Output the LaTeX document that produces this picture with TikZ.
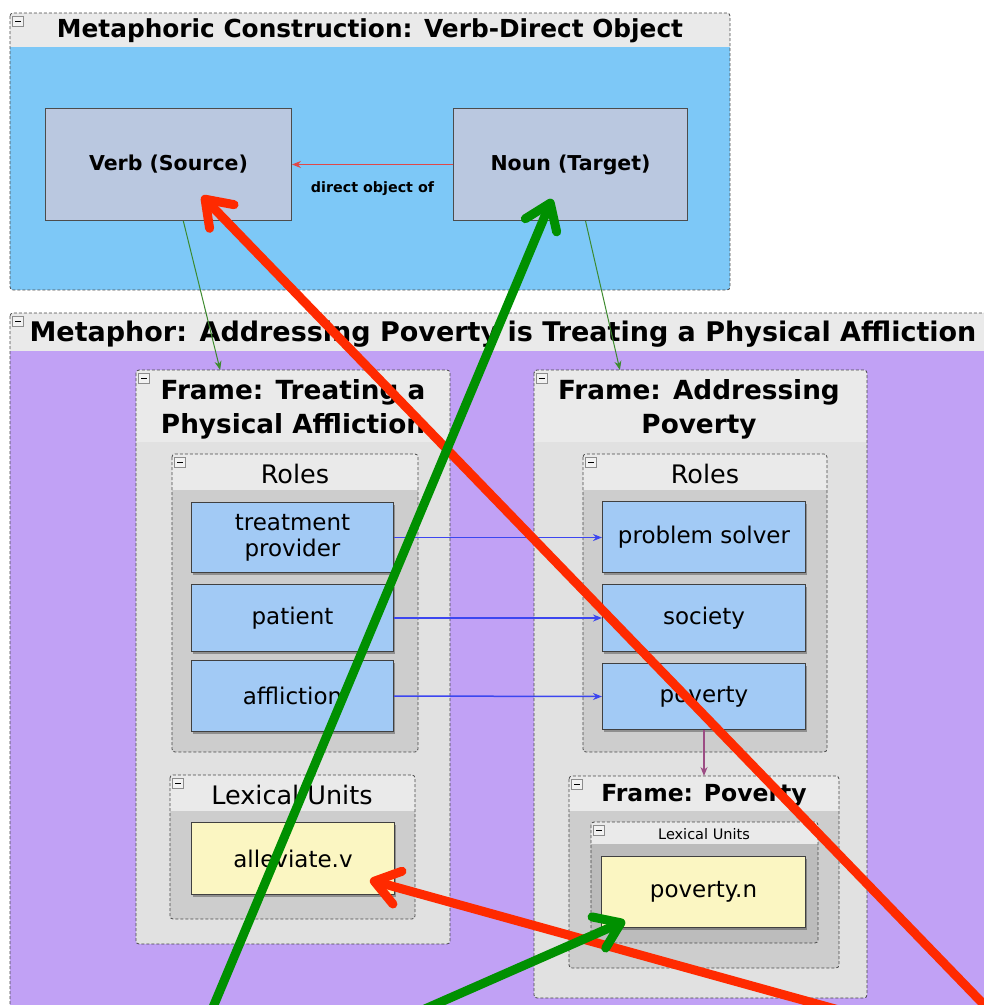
\documentclass[tikz,border=0pt]{standalone}
\usepackage{fontspec}
\setmainfont{DejaVu Sans}
\usetikzlibrary{arrows.meta,shadows,calc}

\definecolor{hdrgray}{HTML}{EAEAEA}
\definecolor{skyfill}{HTML}{7DC8F7}
\definecolor{lilac}{HTML}{C1A1F5}
\definecolor{framegray}{HTML}{E1E1E1}
\definecolor{rolesgray}{HTML}{CDCDCD}
\definecolor{lexdark}{HTML}{BCBCBC}
\definecolor{conceptfill}{HTML}{BAC8E0}
\definecolor{rolefill}{HTML}{A2CAF5}
\definecolor{lexfill}{HTML}{FBF6C2}
\definecolor{thinred}{HTML}{E04848}
\definecolor{thingreen}{HTML}{3C8A2E}
\definecolor{roleblue}{HTML}{3C46F0}
\definecolor{plum}{HTML}{9C4C84}
\definecolor{markred}{HTML}{FF2A00}
\definecolor{markgreen}{HTML}{009000}

\newcommand\fsz[2]{\fontsize{#1}{#2}\selectfont}

\tikzset{
  panelline/.style={draw=black!72, dash pattern=on 3pt off 2pt, line width=0.8pt, rounded corners=3pt},
  minusbox/.style={draw=black!45, fill=white!95!black, line width=0.5pt},
  title/.style={font=\fsz{22}{33}\bfseries, align=center, inner sep=0pt},
  heading/.style={font=\fsz{25.5}{30}, inner sep=0pt},
  concept/.style={draw=black!70, line width=1pt, fill=conceptfill, font=\fsz{20.5}{24}\bfseries,
    anchor=north west, inner sep=0pt},
  role/.style={draw=black!75, line width=1pt, fill=rolefill, font=\fsz{23}{26}, align=center,
    anchor=north west, inner sep=0pt,
    drop shadow={shadow xshift=1.5pt, shadow yshift=-2pt, opacity=0.3, fill=black}},
  lexunit/.style={role, fill=lexfill},
  relarrow/.style={line width=1.5pt, -{Stealth[length=9pt,width=7pt]}},
  marker/.style={line width=9pt, line cap=round, line join=round,
    -{Straight Barb[length=24pt,width=34pt,line cap=round,line join=round]}},
}

% A collapsible panel: grey header strip, coloured body, dashed outline and a minus box.
% #1 name, #2 x1, #3 y1, #4 x2, #5 y2, #6 y of header bottom, #7 body colour
\newcommand\panel[7]{%
  \begin{scope}
    \clip[rounded corners=3pt] (#2,#3) rectangle (#4,#5);
    \fill[hdrgray] (#2,#3) rectangle (#4,#6);
    \fill[#7] (#2,#6) rectangle (#4,#5);
  \end{scope}
  \path[panelline] (#2,#3) rectangle (#4,#5);
  \coordinate (#1-nw) at (#2,#3);
  \coordinate (#1-ne) at (#4,#3);
  \draw[minusbox] ($(#2,#3)+(2.5,3)$) rectangle ($(#2,#3)+(13,13.5)$);
  \draw[line width=1.6pt] ($(#2,#3)+(5,8.3)$) -- ($(#2,#3)+(10.5,8.3)$);
}

\begin{document}
\begin{tikzpicture}[x=1pt,y=-1pt]
\clip (0,0) rectangle (984,1005);
\fill[white] (0,0) rectangle (984,1005);

% ---- construction panel ----
\panel{mc}{10}{13}{730}{290}{47}{skyfill}
\node[title, font=\fsz{24.8}{30}\bfseries] (mctitle) at (370,31) {Metaphoric Construction: Verb-Direct Object};

\node[concept, minimum width=246pt, minimum height=112pt] (verb) at (45,108) {Verb (Source)};
\node[concept, minimum width=234pt, minimum height=112pt] (noun) at (453,108) {Noun (Target)};
\draw[relarrow, thinred] (noun.west) -- node[yshift=-24pt, text=black, font=\fsz{14.3}{17}\bfseries] {direct object of} (verb.east);

% ---- metaphor panel ----
\panel{met}{10}{313}{995}{1015}{351}{lilac}
\node[title, font=\fsz{27}{32}\bfseries] (mettitle) at (503,334) {Metaphor: Addressing Poverty is Treating a Physical Affliction};

% source frame
\panel{ftreat}{136}{370}{450}{944}{442}{framegray}
\node[title, font=\fsz{26.3}{34}\bfseries] (fttitle) at (293,409) {Frame: Treating a\\Physical Affliction};
\panel{rolesL}{172}{454}{418}{752}{490}{rolesgray}
\node[heading] (rolesLh) at (295,474) {Roles};
\node[role, minimum width=202pt, minimum height=70pt] (tp) at (191,502) {treatment\\provider};
\node[role, minimum width=202pt, minimum height=67pt] (patient) at (191,584) {patient};
\node[role, minimum width=202pt, minimum height=71pt] (afflic) at (191,660) {affliction};
\panel{lexL}{170}{775}{415}{919}{811}{rolesgray}
\node[heading] (lexLh) at (292,795) {Lexical Units};
\node[lexunit, minimum width=203pt, minimum height=72pt] (allev) at (191,822) {alleviate.v};

% target frame
\panel{faddr}{534}{370}{867}{998}{442}{framegray}
\node[title, font=\fsz{26.3}{34}\bfseries] (fatitle) at (699,409) {Frame: Addressing\\Poverty};
\panel{rolesR}{583}{454}{827}{752}{490}{rolesgray}
\node[heading] (rolesRh) at (705,474) {Roles};
\node[role, minimum width=203pt, minimum height=71pt] (solver) at (602,501) {problem solver};
\node[role, minimum width=203pt, minimum height=67pt] (society) at (602,584) {society};
\node[role, minimum width=203pt, minimum height=66pt] (pov) at (602,663) {poverty};
\panel{fpov}{569}{776}{839}{968}{811}{rolesgray}
\node[title, font=\fsz{23.5}{28}\bfseries] (fpovtitle) at (704,795) {Frame: Poverty};
\panel{lexR}{591}{822}{818}{943}{844}{lexdark}
\node[font=\fsz{14.5}{17}, inner sep=0pt] (lexRh) at (704,834) {Lexical Units};
\node[lexunit, minimum width=204pt, minimum height=71pt] (povn) at (601,856) {poverty.n};

% ---- relations ----
\draw[relarrow, thingreen, line width=1pt] ($(verb.south west)!0.56!(verb.south east)$) -- ($(ftreat-nw)!0.268!(ftreat-ne)$);
\draw[relarrow, thingreen, line width=1pt] ($(noun.south west)!0.564!(noun.south east)$) -- ($(faddr-nw)!0.258!(faddr-ne)$);
\draw[relarrow, roleblue] (tp.east) -- (tp.east -| solver.west);
\draw[relarrow, roleblue] (patient.east) -- (society.west);
\draw[relarrow, roleblue] (afflic.east) -- (pov.west);
\draw[relarrow, plum] (pov.south) -- (pov.south |- fpov-nw);

% ---- highlight markers ----
\coordinate (r1) at (993,1014);
\coordinate (g1) at (211,1012);
\coordinate (r2) at (846,1012);
\coordinate (g2) at (418,1012);
\draw[marker, markred] (r1) -- ($(verb.south west)+(157,-25)$);
\draw[marker, markgreen] (g1) -- ($(noun.south west)+(99,-22)$);
\draw[marker, markred] (r2) -- ($(allev.south west)+(179,-15)$);
\draw[marker, markgreen] (g2) -- ($(povn.south west)+(24,-7)$);
\end{tikzpicture}
\end{document}
